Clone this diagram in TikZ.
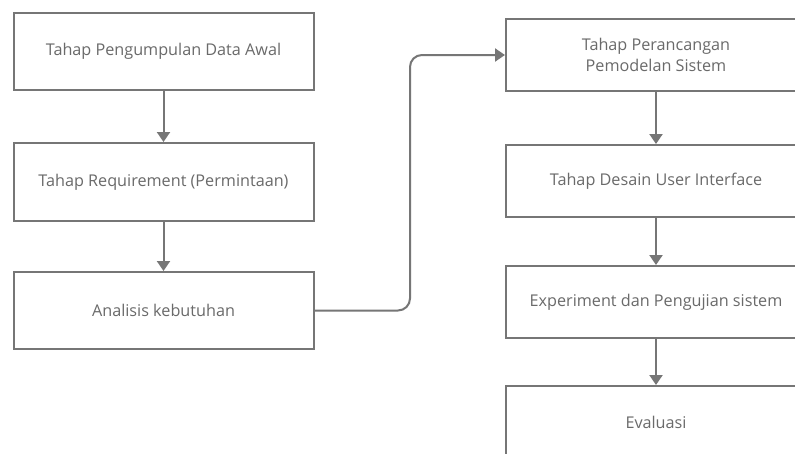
\documentclass[tikz,border=0pt]{standalone}
\usepackage{fontspec}
\setmainfont{Open Sans}
\usetikzlibrary{arrows.meta}
\definecolor{linegray}{HTML}{767676}
\definecolor{textgray}{HTML}{6A6A6A}
\tikzset{
  box/.style={draw=linegray, line width=2pt, fill=white, minimum width=300pt, text=textgray, font=\fontsize{16.2}{21}\selectfont, align=center, inner sep=0pt},
  flow/.style={draw=linegray, line width=2pt, -{Triangle[width=13pt,length=10pt]}, rounded corners=12pt}
}
\begin{document}
\begin{tikzpicture}[x=1pt,y=-1pt]
\useasboundingbox (0,0) rectangle (795,453);
\fill[white] (0,0) rectangle (795,453);
\clip (0,0) rectangle (795,453);
\node[box, minimum height=77pt] (a1) at (163.5,51.5) {Tahap Pengumpulan Data Awal};
\node[box, minimum height=78pt] (a2) at (163.5,182) {Tahap Requirement (Permintaan)};
\node[box, minimum height=77pt] (a3) at (163.5,310.5) {Analisis kebutuhan};
\node[box, minimum height=72pt] (b1) at (656,55) {Tahap Perancangan\\Pemodelan Sistem};
\node[box, minimum height=72pt] (b2) at (656,181) {Tahap Desain User Interface};
\node[box, minimum height=72pt] (b3) at (656,302) {Experiment dan Pengujian sistem};
\node[box, minimum height=72pt] (b4) at (656,422) {Evaluasi};
\draw[flow] (a1) -- (a2);
\draw[flow] (a2) -- (a3);
\draw[flow] (a3.east) -- (410,310.5) -- (410,55) -- (b1.west);
\draw[flow] (b1) -- (b2);
\draw[flow] (b2) -- (b3);
\draw[flow] (b3) -- (b4);
\end{tikzpicture}
\end{document}
